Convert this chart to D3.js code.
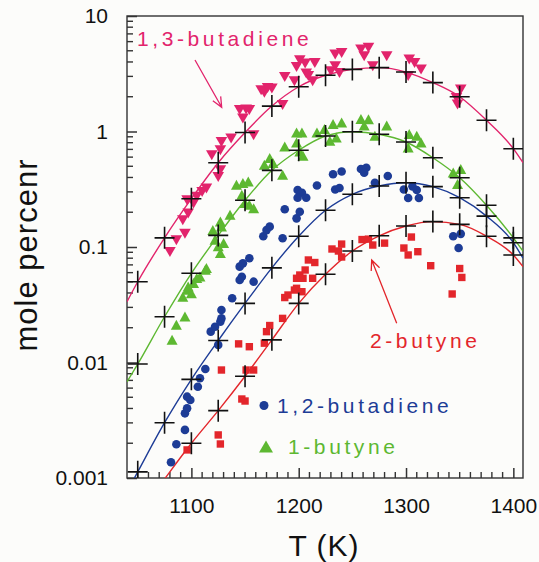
<!DOCTYPE html>
<html>
<head>
<meta charset="utf-8">
<script src="https://cdn.jsdelivr.net/npm/d3@7"></script>
<style>
  body { margin: 0; background: #fcfcfa; }
  text { font-family: "Liberation Sans", Arial, Helvetica, sans-serif; }
</style>
</head>
<body>
<div class="chart"></div>
<script>
// model temperatures (K) and model curves (mole percent)
var modelT = [1040, 1050, 1075, 1100, 1125, 1150, 1175, 1200, 1225, 1250, 1275, 1300, 1325, 1350, 1375, 1400, 1409];
var model13bd = [0.0336, 0.050, 0.120, 0.262, 0.537, 0.98, 1.66, 2.44, 3.07, 3.45, 3.57, 3.27, 2.65, 2.00, 1.25, 0.71, 0.537];
var model1by  = [0.0068, 0.0097, 0.0249, 0.0592, 0.126, 0.254, 0.461, 0.688, 0.914, 0.996, 0.946, 0.811, 0.593, 0.398, 0.230, 0.120, 0.092];
var model12bd = [0.00076, 0.00113, 0.00301, 0.00715, 0.0155, 0.0325, 0.066, 0.124, 0.208, 0.286, 0.337, 0.360, 0.333, 0.267, 0.185, 0.109, 0.080];
var model2by  = [0.00035, 0.00047, 0.00098, 0.0020, 0.00383, 0.0076, 0.0157, 0.0325, 0.058, 0.0923, 0.125, 0.152, 0.166, 0.157, 0.124, 0.0853, 0.0676];

// measured points [T, mole percent]
var data13bd = [[1080,0.091],[1094,0.131],[1086,0.115],[1092,0.171],[1097,0.196],[1102,0.239],[1105,0.273],[1110,0.301],[1114,0.322],[1096,0.255],
  [1119,0.626],[1127,0.692],[1128,0.816],[1125,0.406],[1127,0.464],[1137,0.873],[1145,1.54],[1151,1.56],[1154,1.54],[1148,1.30],[1158,0.933],
  [1165,2.29],[1175,2.37],[1185,1.70],[1187,2.98],[1198,3.64],[1206,3.89],[1201,4.16],[1207,3.19],[1168,2.17],[1171,2.39],[1215,3.94],
  [1209,3.03],[1213,2.74],[1196,2.74],[1234,4.66],[1240,4.81],[1234,3.69],[1238,3.23],[1230,3.34],[1258,5.15],[1265,5.32],[1261,4.51],
  [1269,3.69],[1282,4.51],[1303,4.22],[1308,3.94],[1314,3.45],[1302,3.03],[1351,2.32],[1348,1.72],[1347,1.96]];
var data1by = [[1082,0.0157],[1086,0.0211],[1094,0.0249],[1092,0.0369],[1096,0.0424],[1100,0.0397],[1097,0.0453],[1102,0.0485],[1105,0.0536],
  [1108,0.0553],[1113,0.0632],[1114,0.0654],[1122,0.115],[1120,0.140],[1127,0.166],[1128,0.150],[1125,0.101],[1127,0.0882],[1130,0.108],
  [1136,0.189],[1142,0.344],[1148,0.356],[1153,0.368],[1147,0.282],[1150,0.239],[1154,0.231],[1158,0.216],[1168,0.513],[1173,0.586],
  [1176,0.531],[1185,0.420],[1187,0.739],[1198,0.977],[1203,0.977],[1198,0.800],[1201,0.668],[1204,0.614],[1217,0.977],[1224,1.045],
  [1232,1.154],[1240,1.19],[1235,0.884],[1229,0.828],[1258,1.28],[1265,1.27],[1261,1.12],[1271,0.914],[1282,1.12],[1303,0.946],
  [1310,0.914],[1314,0.800],[1302,0.724],[1344,0.440],[1351,0.471],[1348,0.349]];
var data12bd = [[1081,0.00137],[1086,0.00196],[1094,0.00261],[1094,0.00363],[1096,0.00401],[1099,0.00473],[1096,0.00506],[1106,0.00617],
  [1108,0.00730],[1113,0.00879],[1118,0.0185],[1122,0.0204],[1127,0.0226],[1128,0.0241],[1128,0.0285],[1125,0.0142],[1138,0.0360],
  [1145,0.0676],[1148,0.0722],[1154,0.0798],[1147,0.0553],[1145,0.0518],[1158,0.0501],[1167,0.124],[1170,0.140],[1173,0.150],[1185,0.119],
  [1187,0.212],[1198,0.177],[1201,0.202],[1199,0.312],[1203,0.295],[1199,0.267],[1207,0.267],[1217,0.341],[1232,0.426],[1240,0.451],
  [1234,0.315],[1238,0.324],[1258,0.474],[1263,0.486],[1261,0.440],[1271,0.360],[1283,0.412],[1298,0.315],[1306,0.335],[1310,0.312],
  [1302,0.266],[1312,0.266],[1344,0.124],[1351,0.130],[1349,0.098]];
var data2by = [[1096,0.00175],[1125,0.00236],[1127,0.00197],[1128,0.00861],[1144,0.0145],[1154,0.0137],[1147,0.00483],[1150,0.00464],
  [1151,0.00861],[1158,0.00861],[1168,0.0147],[1170,0.0185],[1173,0.0209],[1185,0.0241],[1187,0.0365],[1190,0.0384],[1196,0.0424],
  [1198,0.0536],[1201,0.0572],[1206,0.0632],[1204,0.0536],[1198,0.0439],[1203,0.0410],[1209,0.0772],[1215,0.0734],[1213,0.0536],
  [1231,0.0961],[1237,0.0923],[1240,0.106],[1240,0.0819],[1259,0.116],[1265,0.117],[1269,0.104],[1280,0.108],[1298,0.098],[1305,0.122],
  [1302,0.0853],[1311,0.0911],[1323,0.0689],[1350,0.0651],[1352,0.0545],[1343,0.0392]];

var xTicks = [1100, 1200, 1300, 1400];
var yTicks = [0.001, 0.01, 0.1, 1, 10];
var yTickLabels = ["0.001", "0.01", "0.1", "1", "10"];

// colours
var cPink = "#e2246c", cGreen = "#5db831", cBlue = "#1d3c96", cRed = "#e3262b";

// set up chart
var svgWidth = 539, svgHeight = 562;
var margin = {top: 16, right: 16, bottom: 84, left: 127};
var width = svgWidth - margin.left - margin.right;
var height = svgHeight - margin.top - margin.bottom;

var svg = d3.select(".chart").append("svg")
    .attr("width", svgWidth)
    .attr("height", svgHeight)
    .style("background", "#fcfcfa");
var chart = svg.append("g").attr("transform", "translate(" + margin.left + "," + margin.top + ")");

var x = d3.scaleLinear().domain([1040, 1409]).range([0, width]);
var y = d3.scaleLog().domain([0.001, 10]).range([height, 0]);

chart.append("clipPath").attr("id", "clip")
  .append("rect").attr("width", width).attr("height", height);

// minor ticks, drawn inward
var yMinor = [];
yTicks.slice(0, -1).forEach(function(p) {
  for (var k = 2; k <= 9; k++) yMinor.push(p * k);
});
var xMinor = d3.range(1050, 1409, 10).filter(function(t) { return xTicks.indexOf(t) < 0; });

chart.append("g").selectAll("line").data(yMinor).enter().append("line")
  .attr("x1", 0).attr("x2", 6)
  .attr("y1", function(d) { return y(d); }).attr("y2", function(d) { return y(d); })
  .attr("stroke", "#333").attr("stroke-width", 1.4);
chart.append("g").selectAll("line").data(xMinor).enter().append("line")
  .attr("y1", height).attr("y2", height - 6)
  .attr("x1", function(d) { return x(d); }).attr("x2", function(d) { return x(d); })
  .attr("stroke", "#333").attr("stroke-width", 1.4);

// major axes
chart.append("g")
  .call(d3.axisLeft(y).tickValues(yTicks).tickSizeInner(-10).tickSizeOuter(0).tickPadding(19)
    .tickFormat(function(d, i) { return yTickLabels[i]; }))
  .call(function(g) {
    g.select(".domain").remove();
    g.selectAll("line").attr("stroke", "#333").attr("stroke-width", 1.5);
    g.selectAll("text").attr("font-size", "21px").attr("fill", "#111")
      .style("font-family", "'Liberation Sans', Arial, sans-serif");
  });
chart.append("g").attr("transform", "translate(0," + height + ")")
  .call(d3.axisBottom(x).tickValues(xTicks).tickSizeInner(-10).tickSizeOuter(0).tickPadding(20)
    .tickFormat(d3.format("d")))
  .call(function(g) {
    g.select(".domain").remove();
    g.selectAll("line").attr("stroke", "#333").attr("stroke-width", 1.5);
    g.selectAll("text").attr("font-size", "21px").attr("fill", "#111")
      .style("font-family", "'Liberation Sans', Arial, sans-serif");
  });

// frame
chart.append("rect").attr("width", width).attr("height", height)
  .attr("fill", "none").attr("stroke", "#333").attr("stroke-width", 1.4);

// model curves
var series = [
  {model: model13bd, pts: data13bd, color: cPink, shape: "down"},
  {model: model1by, pts: data1by, color: cGreen, shape: "up"},
  {model: model12bd, pts: data12bd, color: cBlue, shape: "circle"},
  {model: model2by, pts: data2by, color: cRed, shape: "square"}
];

var line = d3.line()
  .x(function(d) { return x(d[0]); })
  .y(function(d) { return y(d[1]); })
  .curve(d3.curveMonotoneX);

var plot = chart.append("g").attr("clip-path", "url(#clip)");

series.forEach(function(s) {
  plot.append("path")
    .datum(modelT.map(function(t, i) { return [t, s.model[i]]; }))
    .attr("d", line)
    .attr("fill", "none")
    .attr("stroke", s.color)
    .attr("stroke-width", 1.4);
});

var shapes = {
  down: "M-5.8,-4.8L5.8,-4.8L0,5.2Z",
  up: "M-5.5,4.8L5.5,4.8L0,-5.2Z",
  square: "M-3.7,-3.7H3.7V3.7H-3.7Z"
};

series.forEach(function(s) {
  var g = plot.append("g");
  if (s.shape === "circle") {
    g.selectAll("circle").data(s.pts).enter().append("circle")
      .attr("cx", function(d) { return x(d[0]); })
      .attr("cy", function(d) { return y(d[1]); })
      .attr("r", 4.3)
      .attr("fill", s.color);
  } else {
    g.selectAll("path").data(s.pts).enter().append("path")
      .attr("transform", function(d) { return "translate(" + x(d[0]) + "," + y(d[1]) + ")"; })
      .attr("d", shapes[s.shape])
      .attr("fill", s.color);
  }
});

// model crosses
series.forEach(function(s) {
  var pts = modelT.map(function(t, i) { return [t, s.model[i]]; })
    .filter(function(d) { return d[0] >= 1050 && d[0] <= 1400 && d[1] >= 0.001; });
  plot.append("g").selectAll("path").data(pts).enter().append("path")
    .attr("transform", function(d) { return "translate(" + x(d[0]) + "," + y(d[1]) + ")"; })
    .attr("d", "M-10,0H10M0,-11V11")
    .attr("stroke", "#111")
    .attr("stroke-width", 1.6)
    .attr("fill", "none");
});

// annotations
function arrow(x1, y1, x2, y2, color) {
  var a = Math.atan2(y2 - y1, x2 - x1), L = 11, w = 0.42;
  var p = "M" + x1 + "," + y1 + "L" + x2 + "," + y2 +
    "M" + (x2 - L * Math.cos(a - w)) + "," + (y2 - L * Math.sin(a - w)) + "L" + x2 + "," + y2 +
    "L" + (x2 - L * Math.cos(a + w)) + "," + (y2 - L * Math.sin(a + w));
  svg.append("path").attr("d", p).attr("fill", "none").attr("stroke", color).attr("stroke-width", 1.3);
}
function label(tx, ty, str, color) {
  svg.append("text").attr("x", tx).attr("y", ty).text(str)
    .attr("fill", color).attr("font-size", "21px").style("letter-spacing", "3.6px");
}

label(137, 46, "1,3-butadiene", cPink);
arrow(195, 60, 221.7, 107.3, cPink);
label(370, 348, "2-butyne", cRed);
arrow(396.7, 323.3, 371.7, 260, cRed);

svg.append("circle").attr("cx", 264).attr("cy", 405.5).attr("r", 4.5).attr("fill", cBlue);
label(277, 413, "1,2-butadiene", cBlue);
svg.append("path").attr("transform", "translate(266,446.5)").attr("d", "M-7,6L7,6L0,-6Z").attr("fill", cGreen);
label(288, 454, "1-butyne", cGreen);

// axis titles
svg.append("text")
  .attr("transform", "translate(37,255) rotate(-90)")
  .attr("text-anchor", "middle")
  .attr("font-size", "31px")
  .attr("fill", "#111")
  .style("letter-spacing", "1px")
  .text("mole percenr");
svg.append("text")
  .attr("x", 324).attr("y", 556)
  .attr("text-anchor", "middle")
  .attr("font-size", "30px")
  .attr("fill", "#111")
  .style("letter-spacing", "1px")
  .text("T (K)");
</script>
</body>
</html>
